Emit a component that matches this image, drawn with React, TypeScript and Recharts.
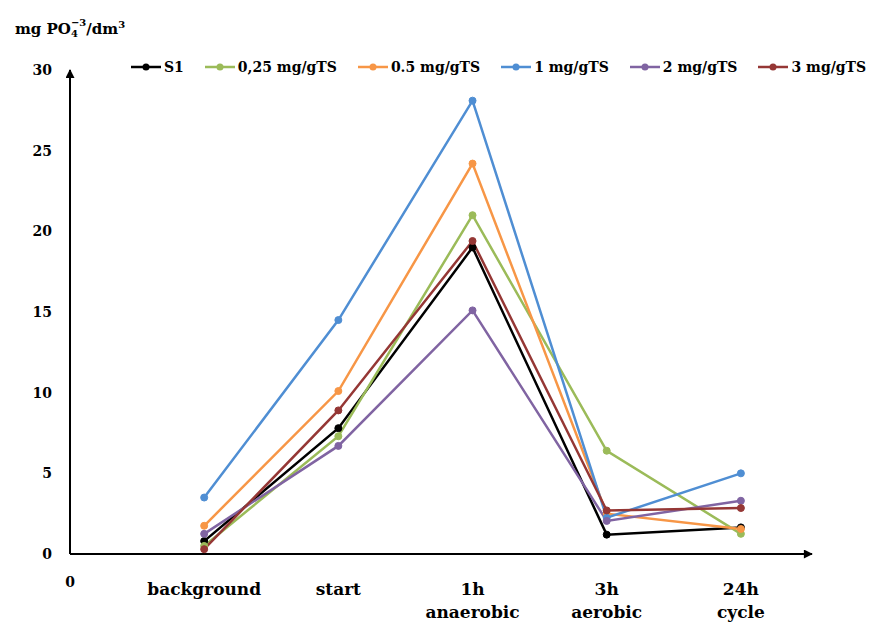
import { Line, LineChart, XAxis, YAxis } from 'recharts'

const categories = ['background', 'start', '1h anaerobic', '3h aerobic', '24h cycle']
const s1 = [0.8, 7.8, 19.0, 1.2, 1.65]
const mg025 = [0.5, 7.3, 21.0, 6.4, 1.25]
const mg05 = [1.75, 10.1, 24.2, 2.5, 1.55]
const mg1 = [3.5, 14.5, 28.1, 2.25, 5.0]
const mg2 = [1.25, 6.7, 15.1, 2.05, 3.3]
const mg3 = [0.3, 8.9, 19.4, 2.7, 2.85]

const xTicks = [-1, 0, 1, 2, 3, 4]
const xTickLabels: Record<number, string[]> = {
  [-1]: ['0'],
  0: ['background'],
  1: ['start'],
  2: ['1h', 'anaerobic'],
  3: ['3h', 'aerobic'],
  4: ['24h', 'cycle'],
}
const yTicks = [0, 5, 10, 15, 20, 25, 30]

const series = [
  { key: 's1', name: 'S1', color: '#000000' },
  { key: 'mg025', name: '0,25 mg/gTS', color: '#9BBB59' },
  { key: 'mg05', name: '0.5 mg/gTS', color: '#F79646' },
  { key: 'mg1', name: '1 mg/gTS', color: '#4F8ED3' },
  { key: 'mg2', name: '2 mg/gTS', color: '#8064A2' },
  { key: 'mg3', name: '3 mg/gTS', color: '#953735' },
]

const data = categories.map((name, i) => ({
  x: i,
  name,
  s1: s1[i],
  mg025: mg025[i],
  mg05: mg05[i],
  mg1: mg1[i],
  mg2: mg2[i],
  mg3: mg3[i],
}))

const FONT = '"DejaVu Serif", serif'

function XTick({ x, y, payload }: any) {
  const lines = xTickLabels[payload.value] ?? []
  if (payload.value === -1) {
    return (
      <text x={x} y={y + 33} textAnchor="middle" fontFamily={FONT} fontWeight="bold" fontSize={14} fill="#000">
        0
      </text>
    )
  }
  return (
    <text x={x} y={y + 41} textAnchor="middle" fontFamily={FONT} fontWeight="bold" fontSize={17} fill="#000">
      {lines.map((l, i) => (
        <tspan key={l} x={x} dy={i === 0 ? 0 : 23}>
          {l}
        </tspan>
      ))}
    </text>
  )
}

function LegendRow() {
  return (
    <div
      style={{
        position: 'absolute',
        left: 131,
        top: 59,
        display: 'flex',
        gap: 21,
        fontFamily: FONT,
        fontWeight: 'bold',
        fontSize: 14,
        whiteSpace: 'nowrap',
      }}
    >
      {series.map((s) => (
        <div key={s.key} style={{ display: 'flex', alignItems: 'center', gap: 3 }}>
          <svg width={30} height={10}>
            <line x1={0} y1={5} x2={30} y2={5} stroke={s.color} strokeWidth={2.5} />
            <circle cx={15} cy={5} r={3.5} fill={s.color} />
          </svg>
          <span>{s.name}</span>
        </div>
      ))}
    </div>
  )
}

export default function App() {
  return (
    <div style={{ position: 'absolute', left: 0, top: 0, width: 879, height: 624, background: '#fff' }}>
      <svg width={0} height={0} style={{ position: 'absolute' }}>
        <defs>
          <marker id="arrowHead" viewBox="0 0 10 10" refX="9" refY="5" markerWidth="5" markerHeight="4.5" orient="auto-start-reverse">
            <path d="M0,0 L10,5 L0,10 z" fill="#000" />
          </marker>
        </defs>
      </svg>
      <div style={{ position: 'absolute', left: 15, top: 19, fontFamily: FONT, fontWeight: 'bold', fontSize: 15, whiteSpace: 'nowrap' }}>
        mg PO
        <span style={{ display: 'inline-flex', flexDirection: 'column', verticalAlign: 'middle', fontSize: 10, lineHeight: '11px', marginTop: -4 }}>
          <span>−3</span>
          <span>4</span>
        </span>
        /dm<sup style={{ fontSize: 10 }}>3</sup>
      </div>
      <LegendRow />
      <LineChart width={879} height={624} data={data} margin={{ top: 70, right: 67, left: 0, bottom: 0 }}>
        <XAxis
          dataKey="x"
          type="number"
          domain={[-1, 4.53]}
          ticks={xTicks}
          interval={0}
          height={70}
          tickLine={false}
          tickSize={0}
          tickMargin={0}
          tick={<XTick />}
          axisLine={{ stroke: '#000', strokeWidth: 2, markerEnd: 'url(#arrowHead)' }}
        />
        <YAxis
          type="number"
          domain={[0, 30]}
          ticks={yTicks}
          interval={0}
          width={70}
          tickLine={false}
          tickSize={0}
          tickMargin={18}
          tick={{ fontFamily: FONT, fontWeight: 'bold', fontSize: 14, fill: '#000' }}
          axisLine={{ stroke: '#000', strokeWidth: 2, markerStart: 'url(#arrowHead)' }}
        />
        {series.map((s) => (
          <Line
            key={s.key}
            type="linear"
            dataKey={s.key}
            name={s.name}
            stroke={s.color}
            strokeWidth={2.5}
            dot={{ r: 3.5, fill: s.color, stroke: s.color, strokeWidth: 1 }}
            activeDot={false}
            isAnimationActive={false}
          />
        ))}
      </LineChart>
    </div>
  )
}
